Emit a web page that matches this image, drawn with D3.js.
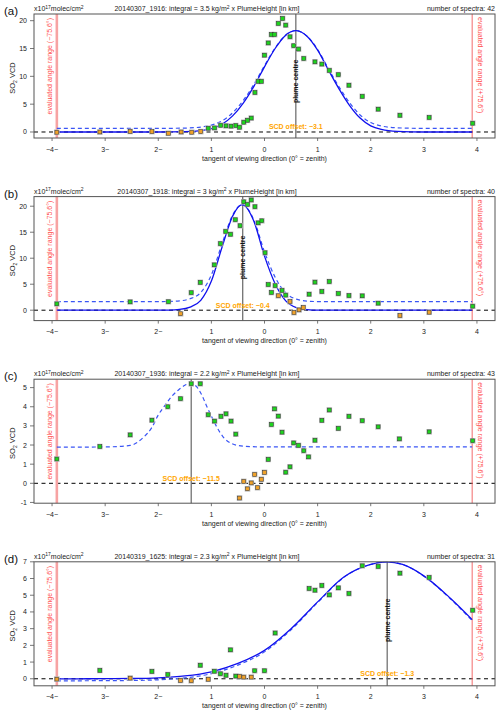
<!DOCTYPE html>
<html><head><meta charset="utf-8">
<script src="https://cdn.jsdelivr.net/npm/d3@7"></script>
<style>
body{margin:0;background:#fff}
svg{display:block}
text{font-family:"Liberation Sans",Arial,Helvetica,sans-serif}
</style>
</head><body>
<svg id="chart" width="500" height="714"></svg>
<script>
// ---------- data ----------
const panelLabels = ["(a)", "(b)", "(c)", "(d)"];
const scanIds = ["20140307_1916", "20140307_1918", "20140307_1936", "20140319_1625"];
const integrals = ["3.5", "3", "2.2", "2.3"];
const nSpectra = [42, 40, 43, 31];
const scdOffsets = ["\u22123.1", "\u22120.4", "\u221211.5", "\u22121.3"];
const plumeCentres = [0.59, -0.41, -1.38, 2.31];
const plumeHalfHeights = [9.1, 10.15, null, 3.5];
const rangeLimit = 3.91;

const xTicks = [-4, -3, -2, -1, 0, 1, 2, 3, 4];
const xTickLabels = ["\u22124\u2212", "3\u2212", "2\u2212", "1", "0", "1", "2", "3", "4"];
const yTicksA = [0, 5, 10, 15, 20];
const yTicksB = [0, 5, 10, 15, 20];
const yTicksC = [-1, 0, 1, 2, 3, 4, 5];
const yTicksD = [0, 1, 2, 3, 4, 5, 6, 7];
const yDomainA = [-1.08, 21.2];
const yDomainB = [-2.0, 21.85];
const yDomainC = [-1.04, 5.44];
const yDomainD = [-0.42, 7.0];

// panel (a)
const aX = [-3.91,-3.10,-2.53,-2.12,-1.81,-1.57,-1.37,-1.20,-1.06,-0.94,-0.825,-0.725,-0.63,-0.54,-0.47,-0.39,-0.32,-0.25,-0.18,-0.12,-0.06,0.0,0.07,0.13,0.19,0.26,0.34,0.40,0.48,0.55,0.64,0.74,0.95,1.08,1.22,1.39,1.59,1.84,2.14,2.55,3.10,3.92];
const aY = [-0.05,0.0,0.1,0.07,-0.23,0.0,-0.05,0.07,0.67,0.73,1.2,1.1,1.05,1.15,0.85,1.75,2.1,2.5,7.1,9.1,9.1,13.8,16.0,17.5,17.5,19.5,20.4,19.2,17.1,15.5,14.9,13.2,12.6,12.2,11.06,10.3,8.4,6.4,4.1,3.0,2.6,1.57];
const aUsed = [0,0,0,0,0,0,0,0,1,1,1,1,1,1,1,1,1,1,1,1,1,1,1,1,1,1,1,1,1,1,1,1,1,1,1,1,1,1,1,1,1,1];
const aFitX = [-3.91,-3,-2,-1.5,-1.2,-1.0,-0.8,-0.6,-0.4,-0.2,0,0.2,0.4,0.59,0.8,1.0,1.2,1.4,1.6,1.8,2.0,2.2,2.5,3,3.91];
const aFitY = [0,0,0,0.05,0.25,0.6,1.4,2.9,5.2,8.2,11.7,15.0,17.4,18.2,17.2,14.7,11.2,7.8,4.8,2.5,1.1,0.45,0.1,0,0];
const aDashY = [0.65,0.65,0.65,0.7,0.89,1.23,2.0,3.45,5.66,8.55,11.93,15.11,17.42,18.2,17.23,14.82,11.45,8.17,5.28,3.06,1.71,1.08,0.75,0.65,0.65];

// panel (b)
const bX = [-3.91,-2.53,-1.81,-1.58,-1.38,-1.21,-0.945,-0.83,-0.73,-0.64,-0.55,-0.46,-0.39,-0.32,-0.25,-0.18,-0.12,-0.05,0.01,0.07,0.13,0.20,0.26,0.33,0.40,0.48,0.555,0.65,0.73,0.84,0.95,1.08,1.22,1.39,1.59,1.84,2.14,2.55,3.10,3.92];
const bY = [1.22,1.6,1.63,-0.68,3.37,5.35,8.72,12.8,15.15,14.6,17.4,16.25,20.85,20.35,21.2,19.9,16.8,17.2,11.05,4.93,3.4,4.72,2.78,3.8,2.9,1.66,-0.46,0.06,0.5,3.08,5.4,3.6,5.5,3.2,2.8,2.76,1.35,-1.04,-0.39,0.77];
const bUsed = [1,1,1,0,1,1,1,1,1,1,1,1,1,1,1,1,1,1,1,1,1,1,0,1,1,0,0,0,0,1,1,1,1,1,1,1,1,0,0,1];
const bFitX = [-3.91,-2.5,-2.0,-1.8,-1.6,-1.4,-1.2,-1.0,-0.8,-0.6,-0.42,-0.2,0,0.2,0.4,0.6,0.8,1.0,1.5,2.5,3.91];
const bFitY = [0,0,0,0.02,0.14,0.6,1.9,5.6,12.1,18.1,20.3,17.1,10.4,5.1,1.8,0.5,0.1,0,0,0,0];
const bDashY = [1.66,1.66,1.66,1.68,1.79,2.21,3.40,6.80,12.77,18.28,20.3,17.36,11.21,6.34,3.31,2.12,1.75,1.66,1.66,1.66,1.66];

// panel (c)
const cX = [-3.91,-3.10,-2.53,-2.12,-1.82,-1.58,-1.38,-1.21,-1.06,-0.94,-0.82,-0.725,-0.63,-0.54,-0.47,-0.39,-0.32,-0.25,-0.185,-0.13,-0.06,0.0,0.07,0.13,0.19,0.26,0.33,0.40,0.48,0.55,0.64,0.74,0.83,0.95,1.08,1.22,1.39,1.59,1.84,2.14,2.54,3.10,3.92];
const cY = [1.27,1.92,2.53,3.3,4.0,4.42,5.2,5.2,3.58,3.25,3.5,3.63,3.25,2.57,-0.77,0.1,-0.29,0.02,0.46,-0.23,0.21,0.57,1.25,3.07,3.89,3.51,2.67,0.58,0.86,2.11,1.98,1.7,1.38,2.25,3.29,3.83,2.87,3.5,3.27,2.95,2.32,2.69,2.22];
const cUsed = [1,1,1,1,1,1,1,1,1,1,1,1,1,1,0,0,0,0,0,0,0,0,1,1,1,1,1,1,1,1,1,1,1,1,1,1,1,1,1,1,1,1,1];
const cFitX = [];
const cFitY = [];
const cDashX = [-3.91,-3.0,-2.53,-2.28,-2.12,-2.0,-1.87,-1.75,-1.62,-1.50,-1.38,-1.28,-1.18,-1.09,-0.99,-0.90,-0.78,-0.62,-0.40,0,1,2,3,3.91];
const cDashY = [1.89,1.9,1.98,2.4,2.92,3.57,4.09,4.53,4.88,5.12,5.23,5.05,4.61,4.04,3.45,2.95,2.43,2.08,1.94,1.9,1.9,1.9,1.9,1.9];

// panel (d)
const dX = [-3.91,-3.10,-2.53,-2.12,-1.82,-1.58,-1.38,-1.21,-1.06,-0.945,-0.83,-0.725,-0.64,-0.54,-0.47,-0.39,-0.25,-0.185,0.0,0.2,0.84,0.95,1.08,1.22,1.39,1.59,1.84,2.14,2.55,3.10,3.92];
const dY = [-0.02,0.5,0.04,0.44,0.25,-0.1,-0.12,0.81,-0.03,0.45,0.3,0.21,1.73,0.16,0.14,0.1,0.1,0.48,0.48,2.74,5.4,5.3,5.58,5.02,5.44,5.1,6.76,6.72,6.32,6.06,4.1];
const dUsed = [0,1,0,1,1,0,0,1,0,1,1,1,1,1,0,0,0,1,1,1,1,1,1,1,1,1,1,1,1,1,1];
const dFitX = [-3.91,-3.5,-3,-2.5,-2,-1.5,-1,-0.5,0,0.5,1,1.5,2,2.3,2.6,3,3.5,3.91];
const dFitY = [0,0,0.01,0.02,0.06,0.17,0.42,0.92,1.7,3.0,4.6,6.1,6.84,7.0,6.84,6.16,4.82,3.54];
const dDashY = [-0.12,-0.12,-0.11,-0.1,-0.06,0.05,0.31,0.82,1.61,2.93,4.56,6.08,6.84,7.0,6.84,6.14,4.78,3.48];

// ---------- assemble ----------
const panels = [
  {x:aX,y:aY,used:aUsed,fitX:aFitX,fitY:aFitY,dashX:aFitX,dashY:aDashY,yTicks:yTicksA,yDomain:yDomainA},
  {x:bX,y:bY,used:bUsed,fitX:bFitX,fitY:bFitY,dashX:bFitX,dashY:bDashY,yTicks:yTicksB,yDomain:yDomainB},
  {x:cX,y:cY,used:cUsed,fitX:cFitX,fitY:cFitY,dashX:cDashX,dashY:cDashY,yTicks:yTicksC,yDomain:yDomainC},
  {x:dX,y:dY,used:dUsed,fitX:dFitX,fitY:dFitY,dashX:dFitX,dashY:dDashY,yTicks:yTicksD,yDomain:yDomainD}
];

const svg = d3.select("#chart");
const L = 34, R = 495, H = 124;
const tops = [14, 196.6, 379.2, 561.8];
const fs = 7;
const x = d3.scaleLinear().domain([-4.34, 4.34]).range([L, R]);

panels.forEach((p, i) => {
  const T = tops[i], B = T + H;
  const y = d3.scaleLinear().domain(p.yDomain).range([B, T]);
  const g = svg.append("g");
  const clipId = "clip" + i;
  g.append("clipPath").attr("id", clipId).append("rect")
    .attr("x", L).attr("y", T).attr("width", R - L).attr("height", H);

  // zero line
  g.append("line").attr("x1", L).attr("x2", R).attr("y1", y(0)).attr("y2", y(0))
    .attr("stroke", "#000").attr("stroke-width", 1).attr("stroke-dasharray", "4,3.5");

  // range lines
  g.append("line").attr("x1", x(-rangeLimit)).attr("x2", x(-rangeLimit)).attr("y1", T).attr("y2", B)
    .attr("stroke", "#f7a3a3").attr("stroke-width", 2.6);
  g.append("line").attr("x1", x(rangeLimit)).attr("x2", x(rangeLimit)).attr("y1", T).attr("y2", B)
    .attr("stroke", "#f26b6b").attr("stroke-width", 1);

  // plume centre line
  const pcx = x(plumeCentres[i]);
  g.append("line").attr("x1", pcx).attr("x2", pcx).attr("y1", T).attr("y2", B)
    .attr("stroke", "#666").attr("stroke-width", 1.2);

  const cg = g.append("g").attr("clip-path", `url(#${clipId})`);
  const line = d3.line().x(d => x(d[0])).y(d => y(d[1])).curve(d3.curveMonotoneX);
  if (p.dashX.length) {
    cg.append("path").datum(p.dashX.map((v, k) => [v, p.dashY[k]]))
      .attr("d", line).attr("fill", "none").attr("stroke", "#3a55f5")
      .attr("stroke-width", 1.2).attr("stroke-dasharray", "4,3");
  }
  if (p.fitX.length) {
    cg.append("path").datum(p.fitX.map((v, k) => [v, p.fitY[k]]))
      .attr("d", line).attr("fill", "none").attr("stroke", "#1010ee")
      .attr("stroke-width", 1.3);
  }

  // points
  const pts = p.x.map((v, k) => ({x: v, y: p.y[k], u: p.used[k]}));
  const pg = g.append("g");
  pg.selectAll("rect.halo").data(pts).join("rect").attr("class", "halo")
    .attr("x", d => x(d.x) - 2.8).attr("y", d => y(d.y) - 2.8)
    .attr("width", 5.6).attr("height", 5.6).attr("fill", "#bdbdbd");
  pg.selectAll("rect.pt").data(pts).join("rect").attr("class", "pt")
    .attr("x", d => x(d.x) - 1.9).attr("y", d => y(d.y) - 1.9)
    .attr("width", 3.8).attr("height", 3.8)
    .attr("fill", d => d.u ? "#1ed41e" : "#f0a22a")
    .attr("stroke", "#333").attr("stroke-width", 0.5);

  // box
  g.append("rect").attr("x", L).attr("y", T).attr("width", R - L).attr("height", H)
    .attr("fill", "none").attr("stroke", "#555").attr("stroke-width", 1);

  // y axis
  p.yTicks.forEach(t => {
    g.append("line").attr("x1", L - 4).attr("x2", L).attr("y1", y(t)).attr("y2", y(t))
      .attr("stroke", "#555").attr("stroke-width", 0.8);
    g.append("text").attr("x", L - 7).attr("y", y(t) + 2.5).attr("text-anchor", "end")
      .attr("font-size", fs).attr("fill", "#222").text(t);
  });
  // x axis
  xTicks.forEach((t, k) => {
    g.append("line").attr("x1", x(t)).attr("x2", x(t)).attr("y1", B).attr("y2", B + 3)
      .attr("stroke", "#555").attr("stroke-width", 0.8);
    g.append("text").attr("x", x(t)).attr("y", B + 13.5).attr("text-anchor", "middle")
      .attr("font-size", fs).attr("fill", "#222").text(xTickLabels[k]);
  });
  g.append("text").attr("x", (L + R) / 2).attr("y", B + 22.5).attr("text-anchor", "middle")
    .attr("font-size", fs).attr("fill", "#222").text("tangent of viewing direction (0\u00b0 = zenith)");

  // y label
  const yl = g.append("text").attr("transform", `translate(15,${T + H / 2 + 2}) rotate(-90)`)
    .attr("text-anchor", "middle").attr("font-size", fs + 0.5).attr("fill", "#222");
  yl.append("tspan").text("SO");
  yl.append("tspan").attr("font-size", 5).attr("dy", 1.5).text("2");
  yl.append("tspan").attr("dy", -1.5).text(" VCD");

  // panel label
  g.append("text").attr("x", 4).attr("y", T + 1).attr("font-size", 11.5).attr("fill", "#111").text(panelLabels[i]);

  // units
  const u = g.append("text").attr("x", L).attr("y", T - 3).attr("font-size", fs).attr("fill", "#222");
  u.append("tspan").text("x10");
  u.append("tspan").attr("font-size", 5).attr("dy", -2.5).text("17");
  u.append("tspan").attr("dy", 2.5).text("molec/cm");
  u.append("tspan").attr("font-size", 5).attr("dy", -2.5).text("2");

  // title
  const ti = g.append("text").attr("x", 207).attr("y", T - 3).attr("text-anchor", "middle")
    .attr("font-size", fs).attr("fill", "#222");
  ti.append("tspan").text(`${scanIds[i]}: integral = ${integrals[i]} kg/m`);
  ti.append("tspan").attr("font-size", 5).attr("dy", -2.5).text("2");
  ti.append("tspan").attr("dy", 2.5).text(" x PlumeHeight [in km]");

  g.append("text").attr("x", R).attr("y", T - 3).attr("text-anchor", "end")
    .attr("font-size", fs).attr("fill", "#222").text(`number of spectra: ${nSpectra[i]}`);

  // range labels
  g.append("text").attr("transform", `translate(52,${T + 4}) rotate(-90)`)
    .attr("text-anchor", "end").attr("font-size", fs).attr("fill", "#ff5050")
    .text("evaluated angle range (\u221275.6\u00b0)");
  g.append("text").attr("transform", `translate(477.5,${T + 3}) rotate(90)`)
    .attr("text-anchor", "start").attr("font-size", fs).attr("fill", "#ff5050")
    .text("evaluated angle range (+75.6\u00b0)");

  // plume centre label
  if (plumeHalfHeights[i] !== null) {
    g.append("text").attr("transform", `translate(${pcx + 2.5},${y(plumeHalfHeights[i])}) rotate(-90)`)
      .attr("text-anchor", "middle").attr("font-size", fs).attr("font-weight", "bold")
      .attr("fill", "#111").text("plume centre");
  }
  // SCD offset label
  g.append("text").attr("x", pcx).attr("y", y(0) - 2.5).attr("text-anchor", "middle")
    .attr("font-size", fs).attr("font-weight", "bold").attr("fill", "#ffa500")
    .text(`SCD offset: ${scdOffsets[i]}`);
});
</script>
</body></html>
